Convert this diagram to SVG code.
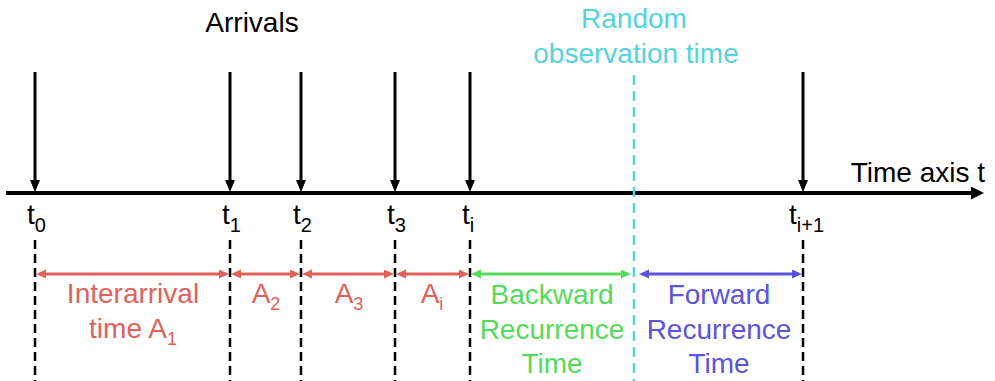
<svg xmlns="http://www.w3.org/2000/svg" width="995" height="381" viewBox="0 0 995 381">
<style>
text{font-family:"Liberation Sans",Arial,sans-serif;font-size:28px}
.blk{fill:#000}
.red{fill:#E0625A}
.grn{fill:#55DB5C}
.blu{fill:#5B55DC}
.cyn{fill:#55D3DE}
.mid{text-anchor:middle}
.sub{font-size:20px}
.asub{font-size:18px}
.arr{stroke:#000;stroke-width:3;fill:none}
.vdash{stroke:#000;stroke-width:2.5;stroke-dasharray:9 5;fill:none}
.cdash{stroke:#55D3DE;stroke-width:2.5;stroke-dasharray:10 6;fill:none}
.seg{stroke-width:3;fill:none}
</style>
<defs>
<marker id="ah" markerUnits="userSpaceOnUse" markerWidth="12" markerHeight="12" refX="1" refY="5" orient="auto"><path d="M0,0 L12,5 L0,10 z" fill="#000"/></marker>
<marker id="axh" markerUnits="userSpaceOnUse" markerWidth="14" markerHeight="14" refX="1" refY="6.5" orient="auto"><path d="M0,0 L13,6.5 L0,13 z" fill="#000"/></marker>
<marker id="rh" markerUnits="userSpaceOnUse" markerWidth="10" markerHeight="10" refX="1" refY="4.5" orient="auto-start-reverse"><path d="M0,0 L10,4.5 L0,9 z" fill="#E0625A"/></marker>
<marker id="gh" markerUnits="userSpaceOnUse" markerWidth="10" markerHeight="10" refX="1" refY="4.5" orient="auto-start-reverse"><path d="M0,0 L10,4.5 L0,9 z" fill="#55DB5C"/></marker>
<marker id="bh" markerUnits="userSpaceOnUse" markerWidth="10" markerHeight="10" refX="1" refY="4.5" orient="auto-start-reverse"><path d="M0,0 L10,4.5 L0,9 z" fill="#5B55DC"/></marker>
</defs>

<g id="connectors">
<line x1="6" y1="193" x2="972" y2="193" stroke="#000" stroke-width="4" marker-end="url(#axh)"/>
<line class="arr" x1="35" y1="72" x2="35" y2="181" marker-end="url(#ah)"/>
<line class="arr" x1="230" y1="72" x2="230" y2="181" marker-end="url(#ah)"/>
<line class="arr" x1="301" y1="72" x2="301" y2="181" marker-end="url(#ah)"/>
<line class="arr" x1="395" y1="72" x2="395" y2="181" marker-end="url(#ah)"/>
<line class="arr" x1="470" y1="72" x2="470" y2="181" marker-end="url(#ah)"/>
<line class="arr" x1="803" y1="72" x2="803" y2="181" marker-end="url(#ah)"/>
<line class="cdash" x1="634" y1="75" x2="634" y2="381"/>
<line class="vdash" x1="35" y1="240" x2="35" y2="381"/>
<line class="vdash" x1="230" y1="240" x2="230" y2="381"/>
<line class="vdash" x1="301" y1="240" x2="301" y2="381"/>
<line class="vdash" x1="395" y1="240" x2="395" y2="381"/>
<line class="vdash" x1="470" y1="240" x2="470" y2="381"/>
<line class="vdash" x1="803" y1="240" x2="803" y2="381"/>
<line class="seg" stroke="#E0625A" x1="45" y1="274" x2="220" y2="274" marker-start="url(#rh)" marker-end="url(#rh)"/>
<line class="seg" stroke="#E0625A" x1="240" y1="274" x2="291" y2="274" marker-start="url(#rh)" marker-end="url(#rh)"/>
<line class="seg" stroke="#E0625A" x1="311" y1="274" x2="385" y2="274" marker-start="url(#rh)" marker-end="url(#rh)"/>
<line class="seg" stroke="#E0625A" x1="405" y1="274" x2="460" y2="274" marker-start="url(#rh)" marker-end="url(#rh)"/>
<line class="seg" stroke="#55DB5C" x1="480" y1="274" x2="622" y2="274" marker-start="url(#gh)" marker-end="url(#gh)"/>
<line class="seg" stroke="#5B55DC" x1="648" y1="274" x2="793" y2="274" marker-start="url(#bh)" marker-end="url(#bh)"/>
</g>

<g id="title-arrivals"><text class="blk mid" x="252" y="32">Arrivals</text></g>
<g id="title-random"><text class="cyn mid" x="634" y="28">Random</text><text class="cyn mid" x="636" y="63">observation time</text></g>
<g id="axis-label"><text class="blk" x="985" y="182" text-anchor="end">Time axis t</text></g>

<g id="t0"><text class="blk" x="27" y="224">t<tspan class="sub" dy="8">0</tspan></text></g>
<g id="t1"><text class="blk" x="222" y="224">t<tspan class="sub" dy="8">1</tspan></text></g>
<g id="t2"><text class="blk" x="293" y="224">t<tspan class="sub" dy="8">2</tspan></text></g>
<g id="t3"><text class="blk" x="387" y="224">t<tspan class="sub" dy="8">3</tspan></text></g>
<g id="ti"><text class="blk" x="462" y="224">t<tspan class="sub" dy="8">i</tspan></text></g>
<g id="ti1"><text class="blk" x="789" y="224">t<tspan class="sub" dy="8">i+1</tspan></text></g>

<g id="A1"><text class="red mid" x="133" y="303">Interarrival</text><text class="red mid" x="133" y="338">time A<tspan class="asub" dy="7">1</tspan></text></g>
<g id="A2"><text class="red mid" x="266" y="303">A<tspan class="asub" dy="7">2</tspan></text></g>
<g id="A3"><text class="red mid" x="349" y="303">A<tspan class="asub" dy="7">3</tspan></text></g>
<g id="Ai"><text class="red mid" x="432" y="303">A<tspan class="asub" dy="7">i</tspan></text></g>
<g id="backward"><text class="grn mid" x="552" y="304">Backward</text><text class="grn mid" x="552" y="339">Recurrence</text><text class="grn mid" x="552" y="373">Time</text></g>
<g id="forward"><text class="blu mid" x="719" y="304">Forward</text><text class="blu mid" x="719" y="339">Recurrence</text><text class="blu mid" x="719" y="373">Time</text></g>
</svg>
